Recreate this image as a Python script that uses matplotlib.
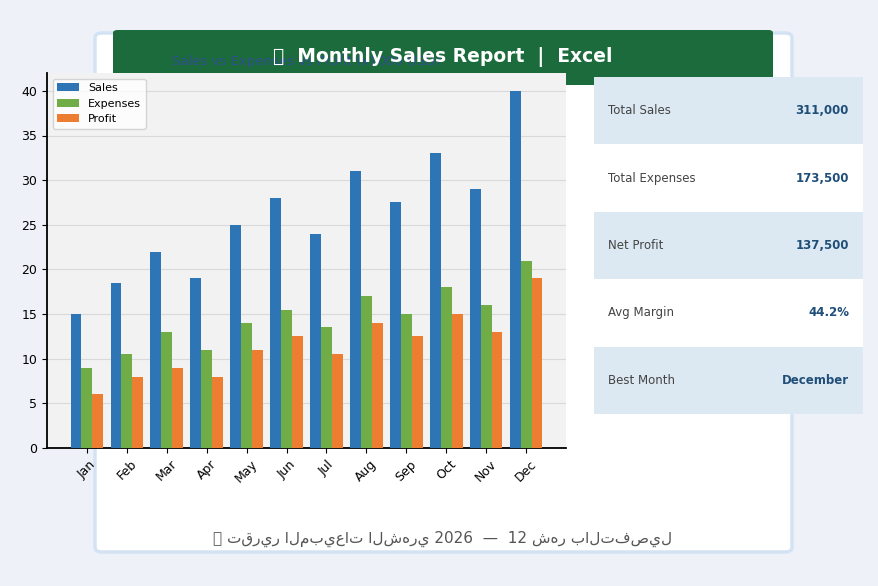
import numpy as np
import matplotlib.pyplot as plt
from matplotlib.patches import FancyBboxPatch, Rectangle

months = ['Jan', 'Feb', 'Mar', 'Apr', 'May', 'Jun', 'Jul', 'Aug', 'Sep', 'Oct', 'Nov', 'Dec']
sales = [15, 18.5, 22, 19, 25, 28, 24, 31, 27.5, 33, 29, 40]
expenses = [9, 10.5, 13, 11, 14, 15.5, 13.5, 17, 15, 18, 16, 21]
profit = [6, 8, 9, 8, 11, 12.5, 10.5, 14, 12.5, 15, 13, 19]

kpi_labels = ['Total Sales', 'Total Expenses', 'Net Profit', 'Avg Margin', 'Best Month']
kpi_values = ['311,000', '173,500', '137,500', '44.2%', 'December']

W, H = 879, 586
fig = plt.figure(figsize=(W / 100, H / 100), dpi=100)
fig.patch.set_facecolor('#eef2f8')

def fx(px):
    return px / W

def fy(py):
    return 1 - py / H

# white card
card = FancyBboxPatch((fx(95), fy(552)), fx(792) - fx(95), fy(33) - fy(552),
                      boxstyle='round,pad=0,rounding_size=0.008', transform=fig.transFigure,
                      facecolor='white', edgecolor='#d3e3f3', linewidth=2.5, zorder=-2)
fig.patches.append(card)

# green header
header = FancyBboxPatch((fx(113), fy(85)), fx(773) - fx(113), fy(30) - fy(85),
                        boxstyle='round,pad=0,rounding_size=0.005', transform=fig.transFigure,
                        facecolor='#1b6b3c', edgecolor='none', zorder=-1)
fig.patches.append(header)
fig.text(fx(443), fy(57), '📊  Monthly Sales Report  |  Excel', color='white',
         fontsize=13.5, fontweight='bold', ha='center', va='center', zorder=5)

# chart
ax = fig.add_axes([fx(47), fy(448), fx(566) - fx(47), fy(73) - fy(448)], zorder=0)
x = np.arange(len(months))
w = 0.27
ax.bar(x - w, sales, w, color='#2e75b6', label='Sales', zorder=3)
ax.bar(x, expenses, w, color='#70ad47', label='Expenses', zorder=3)
ax.bar(x + w, profit, w, color='#ed7d31', label='Profit', zorder=3)
ax.set_facecolor('#f2f2f2')
ax.set_ylim(0, 42)
ax.set_yticks(range(0, 41, 5))
ax.set_xticks(x)
ax.set_xticklabels(months, rotation=45, fontsize=9)
ax.tick_params(axis='y', labelsize=9)
ax.grid(axis='y', color='#d9d9d9', linewidth=0.8, zorder=0)
ax.spines['top'].set_visible(False)
ax.spines['right'].set_visible(False)
ax.spines['left'].set_linewidth(1.3)
ax.spines['bottom'].set_linewidth(1.3)
ax.set_title('Sales vs Expenses vs Profit (x1000 USD)', fontsize=9.5, color='#2f4f8f', pad=6)
ax.legend(loc='upper left', fontsize=8)

# KPI table
top, bottom = 77, 414
rh = (bottom - top) / len(kpi_labels)
for i, (lab, val) in enumerate(zip(kpi_labels, kpi_values)):
    y0 = top + i * rh
    bg = '#dde9f2' if i % 2 == 0 else 'white'
    fig.patches.append(Rectangle((fx(594), fy(y0 + rh)), fx(863) - fx(594), rh / H,
                                 transform=fig.transFigure, facecolor=bg, edgecolor='none', zorder=1))
    fig.text(fx(608), fy(y0 + rh / 2), lab, fontsize=8.5, color='#444444', va='center', ha='left', zorder=2)
    fig.text(fx(849), fy(y0 + rh / 2), val, fontsize=8.5, color='#1f4e79', fontweight='bold',
             va='center', ha='right', zorder=2)

# footer
fig.text(fx(443), fy(539), '📊 تقرير المبيعات الشهري 2026  —  12 شهر بالتفصيل',
         fontsize=11, color='#555555', ha='center', va='center')

fig.savefig('out.png', dpi=100)
